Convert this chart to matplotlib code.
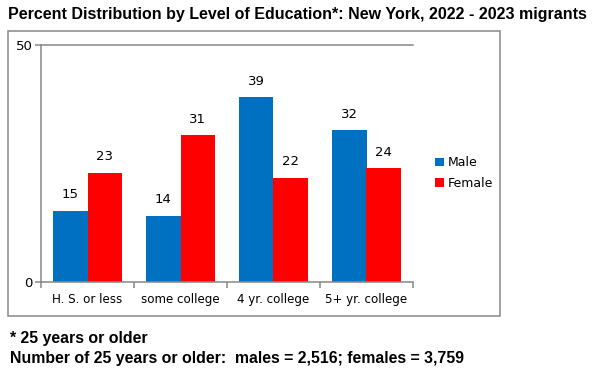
"""
Percent distribution by level of education, New York 2022 - 2023 migrants
"""
import matplotlib
matplotlib.use('Agg')
import matplotlib.pyplot as plt
from matplotlib.patches import Rectangle
import numpy as np

# -- data ----------------------
categories = ['H. S. or less', 'some college', '4 yr. college', '5+ yr. college']
male = [15, 14, 39, 32]
female = [23, 31, 22, 24]
series_names = ['Male', 'Female']

title = 'Percent Distribution by Level of Education*: New York, 2022 - 2023 migrants'
note1 = '* 25 years or older'
note2 = 'Number of 25 years or older:  males = 2,516; females = 3,759'

W, H = 599, 379
BLUE = '#0070C0'
RED = '#FF0000'
GRAY = '#888888'


def px(x0, y0, x1, y1):
    # pixel box -> figure fraction [left, bottom, width, height]
    return [x0 / W, 1 - y1 / H, (x1 - x0) / W, (y1 - y0) / H]


fig = plt.figure(figsize=(W / 100, H / 100), dpi=100)

# outer frame of the chart
l, b, w, h = px(8, 31, 500, 316)
fig.patches.append(Rectangle((l, b), w, h, transform=fig.transFigure,
                             fill=False, edgecolor=GRAY, linewidth=1.1))

ax = fig.add_axes(px(41, 45, 413, 282))
x = np.arange(len(categories))
bw = 0.366
ax.bar(x - bw / 2, male, bw, color=BLUE, label=series_names[0])
ax.bar(x + bw / 2, female, bw, color=RED, label=series_names[1])

for xi, v in zip(x - bw / 2, male):
    ax.text(xi, v + 2.0, str(v), ha='center', va='bottom', fontsize=9.5)
for xi, v in zip(x + bw / 2, female):
    ax.text(xi, v + 2.0, str(v), ha='center', va='bottom', fontsize=9.5)

ax.set_xlim(-0.5, len(categories) - 0.5)
ax.set_ylim(0, 50)
ax.set_yticks([0, 50])
ax.set_xticks(x)
ax.set_xticklabels(categories, fontsize=8.6)
ax.set_xticks(np.arange(len(categories) + 1) - 0.5, minor=True)
ax.tick_params(axis='x', which='major', length=0, pad=8)
ax.tick_params(axis='x', which='minor', length=4, color=GRAY, width=1.1)
ax.tick_params(axis='y', length=4, color=GRAY, width=1.1, labelsize=9.5, pad=2)

ax.spines['right'].set_visible(False)
for s in ['left', 'top', 'bottom']:
    ax.spines[s].set_color(GRAY)
    ax.spines[s].set_linewidth(1.1)

fig.legend(loc='center left', bbox_to_anchor=(430 / W, 1 - 173 / H),
           frameon=False, fontsize=9, handlelength=0.7, handleheight=0.7,
           handletextpad=0.35, labelspacing=0.6, borderaxespad=0)

fig.text(8 / W, 1 - 14 / H, title, ha='left', va='center',
         fontsize=11.5, fontweight='bold', family='Liberation Sans')
fig.text(10 / W, 1 - 338 / H, note1, ha='left', va='center',
         fontsize=11.4, fontweight='bold', family='Liberation Sans')
fig.text(10 / W, 1 - 358 / H, note2, ha='left', va='center',
         fontsize=11.4, fontweight='bold', family='Liberation Sans')

fig.savefig('out.png', dpi=100)
